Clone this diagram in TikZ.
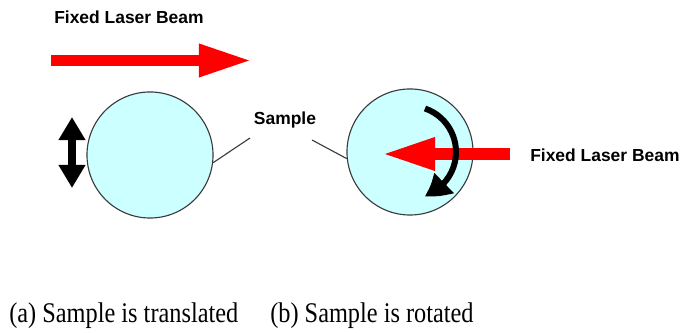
\documentclass[tikz,border=0pt]{standalone}
\usepackage{fontspec}
\setmainfont{Liberation Serif}
\newfontfamily\labelfont{Liberation Sans}
\usetikzlibrary{arrows.meta, bending}
\definecolor{samplecyan}{RGB}{204,255,255}
\definecolor{laserred}{RGB}{255,0,0}
\definecolor{rimgray}{RGB}{60,60,60}

\begin{document}
\begin{tikzpicture}[x=0.025cm, y=0.025cm,
    sample/.style={circle, draw=rimgray, line width=0.8pt, fill=samplecyan, minimum size=3.15cm, inner sep=0pt},
    beam/.style={laserred, line width=0.28cm, -{Triangle[length=1.33cm, width=0.76cm]}},
    mover/.style={black, line width=0.21cm, {Triangle[length=0.58cm, width=0.64cm]}-{Triangle[length=0.58cm, width=0.64cm]}},
    leader/.style={rimgray, line width=0.8pt},
    lbl/.style={font=\labelfont\bfseries\fontsize{12.4}{14}\selectfont, inner sep=0pt},
    caption/.style={font=\fontsize{17.3}{20}\selectfont, inner sep=0pt, anchor=west, yscale=1.17, transform shape}]
    \useasboundingbox (0,0) rectangle (680,333);

    % Samples
    \node[sample] (sampleA) at (150,178) {};
    \node[sample] (sampleB) at (410,181) {};

    % Laser beams
    \node[lbl, anchor=west] (beamlabelA) at (54,316) {Fixed Laser Beam};
    \coordinate (beamA0) at (51,272.5);
    \coordinate (beamA1) at (252,272.5);
    \draw[beam] (beamA0) -- (beamA1);

    \node[lbl, anchor=west] (beamlabelB) at (530,178) {Fixed Laser Beam};
    \coordinate (beamB0) at (510,179);
    \coordinate (beamB1) at (382,179);
    \draw[beam] (beamB0) -- (beamB1);

    % Motions
    \coordinate (moveA0) at (72,216);
    \coordinate (moveA1) at (72,145);
    \draw[mover] (moveA0) -- (moveA1);
    \draw[black, line width=0.15cm, -{Triangle[length=0.6cm, width=0.66cm, bend]}]
        ([shift={(71:46)}]sampleB.center) arc[start angle=71, end angle=-72, radius=46];

    % Label
    \node[lbl] (samplelabel) at (285,213) {Sample};
    \coordinate (leaderA) at (250,195);
    \coordinate (leaderB) at (312,193);
    \draw[leader] (leaderA) -- (sampleA.-7);
    \draw[leader] (leaderB) -- (sampleB.186);

    % Captions
    \node[caption] (capA) at (9,17) {(a) Sample is translated};
    \node[caption] (capB) at (270,17) {(b) Sample is rotated};
\end{tikzpicture}
\end{document}
